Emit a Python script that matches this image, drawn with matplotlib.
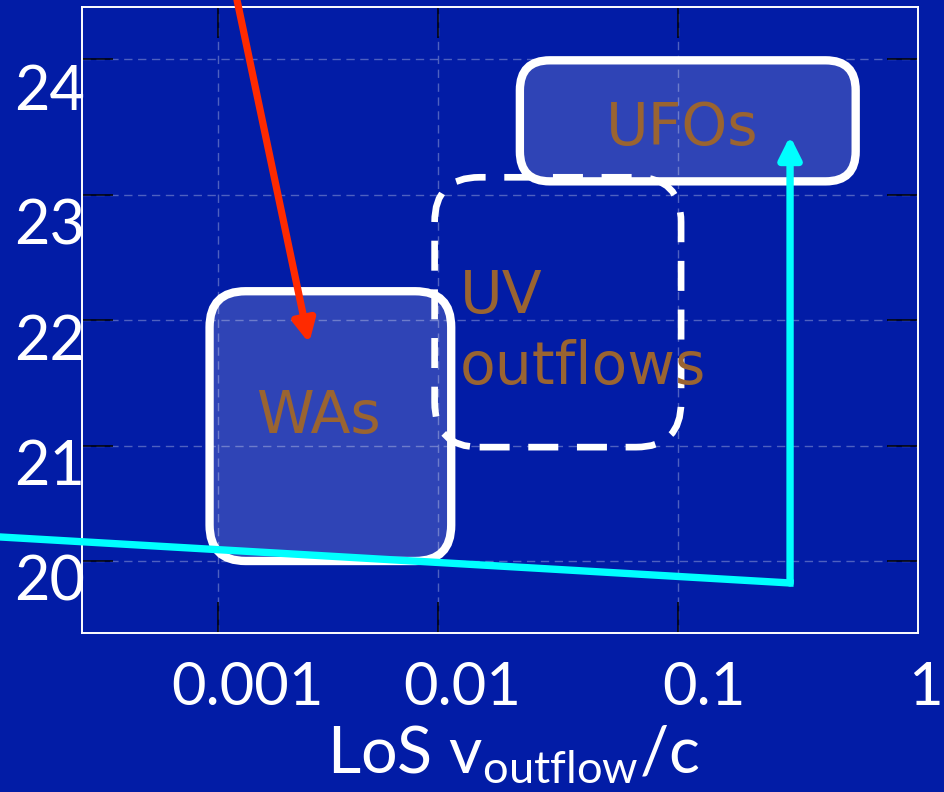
import numpy as np
import matplotlib
matplotlib.use('Agg')
import matplotlib.pyplot as plt
import matplotlib.transforms as mtransforms
from matplotlib.patches import FancyBboxPatch
from matplotlib.ticker import NullLocator

plt.rcParams['font.family'] = ['Lato', 'DejaVu Sans']
plt.rcParams['mathtext.fontset'] = 'custom'
plt.rcParams['mathtext.rm'] = 'Lato'

bg = '#021ca6'
brown = '#9a6431'

# ticks (the slide's axes are not evenly spaced, so they are calibrated to pixel rows/cols)
x_ticks = [0.001, 0.01, 0.1, 1]
x_tick_labels = ['0.001', '0.01', '0.1', '1']
x_tick_px = [218, 437.5, 678, 918]
y_ticks = [20, 21, 22, 23, 24]
y_tick_labels = ['20', '21', '22', '23', '24']
y_tick_px = [561, 446, 320, 195, 59]

# regions (x range in v/c, y range in log N_H)
was_x = [9.15e-4, 0.0114]
was_y = [20.0, 22.23]
ufo_x = [0.022, 0.55]
ufo_y = [23.10, 23.99]
uv_x = [0.0097, 0.103]
uv_y = [20.99, 23.13]

# labels
was_label = (0.00288, 21.103)
ufo_label = (0.104, 23.368)
uv_label1 = (0.0124, 22.056)
uv_label2 = (0.0124, 21.49)

# arrows
red_tail = (0.00122, 24.434)
red_head = (0.0026, 21.816)
cyan_x = [1.016e-4, 0.293, 0.293]
cyan_y = [20.209, 19.809, 23.434]


def piecewise(v, p):
    v = np.asarray(v, float)
    p = np.asarray(p, float)
    def f(x):
        x = np.asarray(x, float)
        out = np.interp(x, v, p)
        lo = p[0] + (x - v[0]) * (p[1] - p[0]) / (v[1] - v[0])
        hi = p[-1] + (x - v[-1]) * (p[-1] - p[-2]) / (v[-1] - v[-2])
        return np.where(x < v[0], lo, np.where(x > v[-1], hi, out))
    return f


xf = piecewise(np.log10(x_ticks), x_tick_px)
xi = piecewise(x_tick_px, np.log10(x_ticks))
yf = piecewise(y_ticks, -np.array(y_tick_px, float))
yi = piecewise(-np.array(y_tick_px, float), y_ticks)

fig = plt.figure(figsize=(9.44, 7.92), dpi=100, facecolor=bg)
ax = fig.add_axes([82/944, 1-633/792, 836/944, 626/792])
ax.set_facecolor(bg)
ax.set_xscale('function', functions=(lambda x: xf(np.log10(np.clip(x, 1e-12, None))),
                                     lambda u: 10 ** xi(u)))
ax.set_yscale('function', functions=(yf, yi))
ax.set_xlim(2.40e-4, 1)
ax.set_ylim(19.374, 24.382)
ax.set_xticks(x_ticks)
ax.set_yticks(y_ticks)
ax.xaxis.set_minor_locator(NullLocator())
ax.yaxis.set_minor_locator(NullLocator())
ax.tick_params(direction='in', length=22, width=1.1, color='black',
               top=True, right=True, labelbottom=False, labelleft=False)
ax.grid(True, color='white', alpha=0.3, linestyle=(0, (6, 4)), linewidth=1)
for s in ax.spines.values():
    s.set_color('white')
    s.set_linewidth(1.4)

# tick labels sit a bit off the ticks on the slide
xdx = [29, 25, 26, 25]
xha = ['center', 'center', 'center', 'right']
for x, lab, dx, ha in zip(x_ticks, x_tick_labels, xdx, xha):
    tr = mtransforms.blended_transform_factory(ax.transData, ax.transAxes) + \
        mtransforms.ScaledTranslation(dx/100, -72/100, fig.dpi_scale_trans)
    ax.text(x, 0, lab, transform=tr, ha=ha, va='baseline',
            fontsize=43, color='white', clip_on=False)
ydy = [39, 39, 40, 50, 51]
for y, lab, dy in zip(y_ticks, y_tick_labels, ydy):
    tr = mtransforms.blended_transform_factory(ax.transAxes, ax.transData) + \
        mtransforms.ScaledTranslation(3/100, -dy/100, fig.dpi_scale_trans)
    ax.text(0, y, lab, transform=tr, ha='right', va='baseline',
            fontsize=44, color='white', clip_on=False)

fig.text(513/944, 19/792, r'LoS v$_{\mathrm{outflow}}$/c', ha='center', va='baseline',
         fontsize=46.5, color='white')


def box(xs, ys, r, **kw):
    (x0, y0), (x1, y1) = ax.transData.transform([(xs[0], ys[0]), (xs[1], ys[1])])
    p = FancyBboxPatch((x0, y0), x1 - x0, y1 - y0,
                       boxstyle=f'round,pad=0,rounding_size={r}',
                       transform=mtransforms.IdentityTransform(), **kw)
    ax.add_patch(p)


box(was_x, was_y, 36, fc=(1, 1, 1, 0.18), ec='white', lw=6, zorder=3)
box(ufo_x, ufo_y, 30, fc=(1, 1, 1, 0.18), ec='white', lw=6, zorder=3)
box(uv_x, uv_y, 45, fc='none', ec='white', lw=4.8, linestyle=(0, (4.5, 2.8)), zorder=4)

tkw = dict(fontsize=42, color=brown, family='DejaVu Sans', va='baseline', zorder=5)
ax.text(*was_label, 'WAs', ha='center', **tkw)
ax.text(*ufo_label, 'UFOs', ha='center', **tkw)
ax.text(*uv_label1, 'UV', ha='left', **tkw)
ax.text(*uv_label2, 'outflows', ha='left', **tkw)

ax.annotate('', xy=red_head, xytext=red_tail, annotation_clip=False, zorder=6,
            arrowprops=dict(arrowstyle='-|>', lw=5.2, color='#ff2a00',
                            shrinkA=0, shrinkB=0, mutation_scale=33))
ax.plot(cyan_x[:2], cyan_y[:2], color='#00ffff', lw=5.3, clip_on=False,
        solid_capstyle='projecting', zorder=6)
ax.annotate('', xy=(cyan_x[2], cyan_y[2]), xytext=(cyan_x[1], cyan_y[1]),
            annotation_clip=False, zorder=6,
            arrowprops=dict(arrowstyle='-|>', lw=5.3, color='#00ffff',
                            shrinkA=0, shrinkB=0, mutation_scale=33))

fig.savefig('out.png', dpi=100, facecolor=bg)
